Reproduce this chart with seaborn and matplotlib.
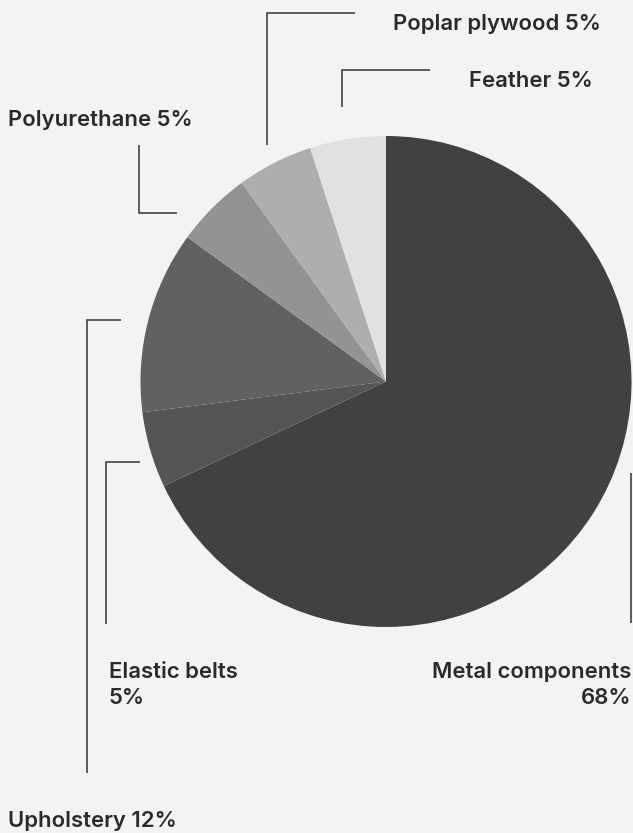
import matplotlib
matplotlib.use("Agg")
import matplotlib.pyplot as plt
import seaborn as sns

# ---- data ----
materials = ["Metal components", "Elastic belts", "Upholstery", "Polyurethane", "Poplar plywood", "Feather"]
shares = [68, 5, 12, 5, 5, 5]
slice_colors = ["#414143", "#555557", "#616163", "#929395", "#adaeb0", "#e0e1e3"]

BG = "#f4f3f1"
INK = "#2a2a2a"
W, H = 633, 833

sns.set_theme(style="white", rc={"figure.facecolor": BG, "axes.facecolor": BG})
plt.rcParams["font.family"] = ["Inter", "DejaVu Sans"]

fig = plt.figure(figsize=(W / 100, H / 100), dpi=100)
ax = fig.add_axes([0, 0, 1, 1])

def Y(y):  # pixel-from-top -> data y
    return H - y

cx, cy, r = 386, 381.5, 245.5
ax.pie(shares, colors=slice_colors, startangle=90, counterclock=False,
       center=(cx, Y(cy)), radius=r, frame=True,
       wedgeprops=dict(linewidth=0))
ax.set_xlim(0, W)
ax.set_ylim(0, H)
ax.set_aspect("equal")
ax.axis("off")

# leader lines (pixel coordinates from top-left)
leaders = {
    "Poplar plywood": [(355, 13), (267, 13), (267, 145)],
    "Feather": [(430, 70), (342, 70), (342, 107)],
    "Polyurethane": [(139, 145), (139, 213), (177, 213)],
    "Upholstery": [(121, 320), (87, 320), (87, 773)],
    "Elastic belts": [(140, 462), (106, 462), (106, 624)],
    "Metal components": [(631, 473), (631, 623)],
}
for name, pts in leaders.items():
    xs = [p[0] for p in pts]
    ys = [Y(p[1]) for p in pts]
    ax.plot(xs, ys, color="#333333", lw=1.1, solid_capstyle="butt", solid_joinstyle="miter")

# labels: (x, first baseline, ha, single line)
label_pos = {
    "Poplar plywood": (601, 30, "right", True),
    "Feather": (593, 87, "right", True),
    "Polyurethane": (8, 126, "left", True),
    "Elastic belts": (109, 678, "left", False),
    "Metal components": (631, 678, "right", False),
    "Upholstery": (8, 827, "left", True),
}
fs = 15.9
for name, val in zip(materials, shares):
    x, yb, ha, single = label_pos[name]
    kw = dict(ha=ha, va="baseline", color=INK, fontsize=fs, fontweight="semibold")
    if single:
        ax.text(x, Y(yb), f"{name} {val}%", **kw)
    else:
        ax.text(x, Y(yb), name, **kw)
        ax.text(x, Y(yb + 26), f"{val}%", **kw)

fig.savefig("out.png", dpi=100, facecolor=BG)
